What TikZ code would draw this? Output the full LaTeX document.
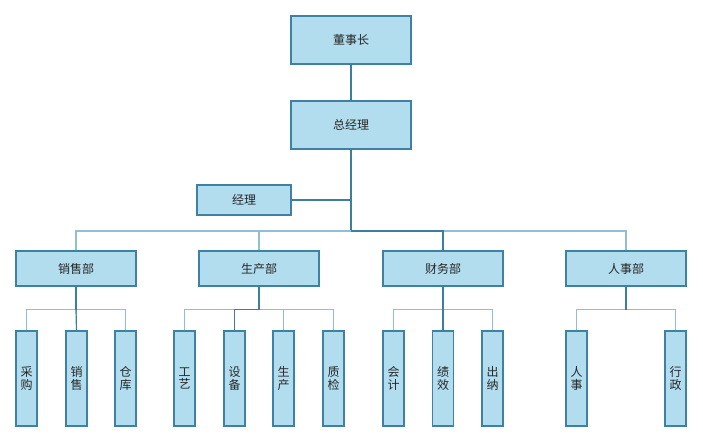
\documentclass[tikz,border=0pt]{standalone}
\usepackage{fontspec}
\newfontfamily\cjk{Noto Sans CJK SC}
\definecolor{boxfill}{HTML}{B2DDEF}
\definecolor{boxdraw}{HTML}{3F81A2}
\definecolor{darkline}{HTML}{3E7E9D}
\definecolor{lightline}{HTML}{8EBFD4}
\begin{document}
\begin{tikzpicture}[x=0.75pt,y=-0.75pt,
  box/.style={draw=boxdraw,fill=boxfill,line width=1pt,inner sep=0pt,font=\cjk\fontsize{9}{10}\selectfont,text=black!85},
  bigbox/.style={box,minimum width=90pt,minimum height=36pt},
  deptbox/.style={box,minimum width=90pt,minimum height=26.25pt},
  mgrbox/.style={box,minimum width=70.5pt,minimum height=22.5pt},
  leafbox/.style={box,minimum width=15.75pt,minimum height=71.25pt,align=center,font=\cjk\fontsize{9}{9.6}\selectfont},
  dk/.style={draw=darkline,line width=0.9pt},
  lt/.style={draw=lightline,line width=1.1pt}]
\useasboundingbox (0,0) rectangle (703,443);
\node[bigbox] (ceo) at (351,40) {董事长};
\node[bigbox] (gm) at (351,125) {总经理};
\node[mgrbox] (mgr) at (244,200) {经理};
\node[deptbox] (xs) at (76,268.5) {销售部};
\node[deptbox] (sc) at (259,268.5) {生产部};
\node[deptbox] (cw) at (443,268.5) {财务部};
\node[deptbox] (rs) at (626,268.5) {人事部};
\foreach \n/\x/\t in {a1/26.5/采\\购, a2/76.5/销\\售, a3/125.5/仓\\库,
  b1/184.5/工\\艺, b2/234.5/设\\备, b3/283.5/生\\产, b4/333.5/质\\检,
  c1/393.5/会\\计, c2/443/绩\\效, c3/492.5/出\\纳,
  d1/576.5/人\\事, d2/675.5/行\\政}
  \node[leafbox] (\n) at (\x,378.5) {\t};
% top
\draw[dk] (ceo.south) -- (gm.north);
\coordinate (bus) at (351,231);
\draw[dk] (gm.south) -- (bus);
\draw[dk] (mgr.east) -- (mgr.east -| gm.south);
\draw[lt] (xs.north) |- (bus);
\draw[lt] (sc.north) |- (bus);
\draw[lt] (rs.north) |- (bus);
\draw[dk] (bus) -| (cw.north);
% department buses
\foreach \p/\kids in {xs/{a1,a2,a3}, sc/{b1,b2,b3,b4}, cw/{c1,c2,c3}, rs/{d1,d2}}{
  \coordinate (\p-m) at ([yshift=-23*0.75pt]\p.south);
  \foreach \k in \kids
    \draw[lt] (\p-m) -| (\k.north);
  \draw[dk] (\p.south) -- (\p-m);
}
\draw[dk] (xs-m) -- (a2.north);
\draw[dk] (cw-m) -- (c2.north);
\draw[dk] (b2.north) |- (sc-m);
\end{tikzpicture}
\end{document}
